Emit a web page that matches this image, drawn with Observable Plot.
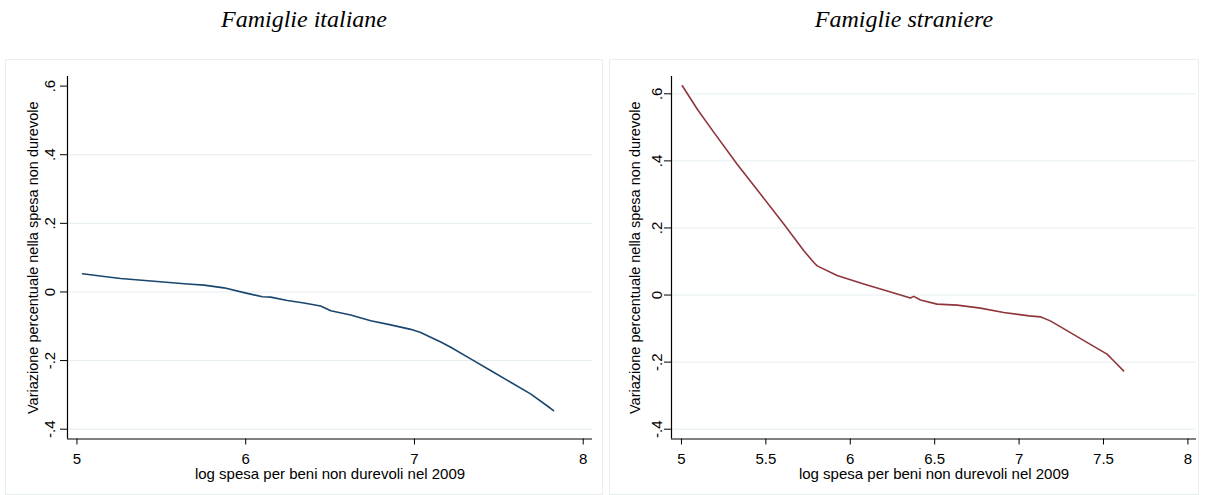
<!DOCTYPE html>
<html>
<head>
<meta charset="utf-8">
<script src="https://cdn.jsdelivr.net/npm/d3@7"></script>
<script src="https://cdn.jsdelivr.net/npm/@observablehq/plot@0.6"></script>
<style>
  html, body { margin: 0; padding: 0; background: #fff; }
  #page { position: relative; width: 1206px; height: 495px; overflow: hidden; background: #fff; }
  .title { position: absolute; top: 7px; text-align: center; font-family: "Liberation Serif", "Times New Roman", serif; font-style: italic; font-size: 24px; line-height: 24px; color: #000; }
  .panel { position: absolute; top: 60px; height: 434px; outline: 1px solid #e9eff0; }
  .panel svg { display: block; }
</style>
</head>
<body>
<div id="page">
  <div class="title" id="t1" style="left:6px;width:596px"></div>
  <div class="title" id="t2" style="left:610px;width:588px"></div>
  <div class="panel" id="p1" style="left:6px;width:596px"></div>
  <div class="panel" id="p2" style="left:610px;width:588px"></div>
</div>
<script>
// ---- data ----
const panelTitles = ["Famiglie italiane", "Famiglie straniere"];
const xTitle = "log spesa per beni non durevoli nel 2009";
const yTitle = "Variazione percentuale nella spesa non durevole";

const xTicksItalian = [5, 6, 7, 8];
const xTicksForeign = [5, 5.5, 6, 6.5, 7, 7.5, 8];
const yTicks = [-0.4, -0.2, 0, 0.2, 0.4, 0.6];
const yTickLabels = ["-.4", "-.2", "0", ".2", ".4", ".6"];

const xItalian = [5.033, 5.161, 5.259, 5.457, 5.655, 5.753, 5.871, 5.990, 6.099, 6.148, 6.247, 6.345, 6.444, 6.504, 6.622, 6.741, 6.859, 6.978, 7.037, 7.096, 7.156, 7.215, 7.333, 7.451, 7.570, 7.688, 7.806, 7.824];
const yItalian = [0.053, 0.045, 0.039, 0.031, 0.023, 0.020, 0.012, -0.002, -0.014, -0.015, -0.025, -0.032, -0.041, -0.055, -0.067, -0.084, -0.096, -0.109, -0.118, -0.132, -0.146, -0.161, -0.195, -0.229, -0.263, -0.297, -0.339, -0.346];

const xForeign = [5.005, 5.094, 5.192, 5.330, 5.468, 5.606, 5.725, 5.784, 5.804, 5.922, 6.080, 6.278, 6.356, 6.376, 6.416, 6.514, 6.633, 6.771, 6.909, 7.060, 7.126, 7.185, 7.284, 7.402, 7.521, 7.560, 7.619];
const yForeign = [0.624, 0.554, 0.485, 0.390, 0.301, 0.212, 0.132, 0.097, 0.087, 0.058, 0.033, 0.003, -0.009, -0.004, -0.015, -0.027, -0.030, -0.039, -0.052, -0.062, -0.065, -0.077, -0.106, -0.141, -0.176, -0.196, -0.226];

function panel({xs, ys, color, xTicks, xDomain, yDomain, width, marginRight, yTickDx, yLabelDx, gridTicks}) {
  const data = xs.map((x, i) => ({x, y: ys[i]}));
  const fmt = d => yTickLabels[yTicks.indexOf(d)];
  return Plot.plot({
    width, height: 434,
    marginLeft: 61, marginRight, marginTop: 16, marginBottom: 55.5,
    style: {fontFamily: "'Liberation Sans', Arial, sans-serif", fontSize: "15px", color: "#000", background: "transparent", overflow: "visible"},
    x: {domain: xDomain},
    y: {domain: yDomain},
    marks: [
      Plot.gridY(gridTicks, {stroke: "#e4eef1", strokeOpacity: 1, strokeWidth: 1}),
      Plot.axisX({ticks: xTicks, tickSize: 6, tickPadding: 8, tickFormat: d => String(d), label: null, fontSize: 15}),
      Plot.axisY({ticks: yTicks, tickSize: 7, tickFormat: () => "", label: null}),
      Plot.text(yTicks, {y: d => d, frameAnchor: "left", dx: yTickDx, rotate: -90, text: fmt, textAnchor: "middle", lineAnchor: "middle", fontSize: 15}),
      Plot.text([yTitle], {frameAnchor: "left", dx: yLabelDx, rotate: -90, text: d => d, textAnchor: "middle", lineAnchor: "middle", fontSize: 14.5}),
      Plot.text([xTitle], {frameAnchor: "bottom", dy: 35, text: d => d, textAnchor: "middle", lineAnchor: "middle", fontSize: 15}),
      Plot.ruleX([xDomain[0]], {stroke: "#000", strokeWidth: 1.2}),
      Plot.ruleY([yDomain[0]], {stroke: "#000", strokeWidth: 1.2}),
      Plot.line(data, {x: "x", y: "y", stroke: color, strokeWidth: 1.6})
    ]
  });
}

document.getElementById("t1").textContent = panelTitles[0];
document.getElementById("t2").textContent = panelTitles[1];

document.getElementById("p1").appendChild(panel({
  xs: xItalian, ys: yItalian, color: "#1a476f",
  xTicks: xTicksItalian, xDomain: [4.944, 8.055], yDomain: [-0.4286, 0.628],
  width: 596, marginRight: 10, yTickDx: -17, yLabelDx: -34,
  gridTicks: yTicks.filter(d => d < 0.6)
}));

document.getElementById("p2").appendChild(panel({
  xs: xForeign, ys: yForeign, color: "#90353b",
  xTicks: xTicksForeign, xDomain: [4.941, 8.051], yDomain: [-0.4292, 0.6516],
  width: 588, marginRight: 2, yTickDx: -14, yLabelDx: -36,
  gridTicks: yTicks
}));
</script>
</body>
</html>
